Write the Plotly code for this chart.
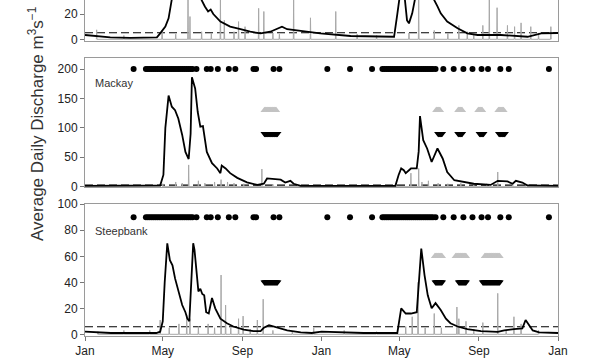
import pandas as pd
import plotly.graph_objects as go

BASE = pd.Timestamp("2010-01-01")
END = pd.Timestamp("2012-01-01")

# ---------------- data (day = days since 1 Jan of first year) ----------------
# Top (cut-off) panel: discharge
top_days = [0, 20, 39, 70, 100, 111, 116, 124, 129, 134, 140, 150, 165, 180, 185, 190, 194, 198, 209, 224,
            240, 255, 271, 286, 304, 312, 333, 363, 410, 477, 482, 485, 490, 497, 500, 505, 510, 520, 530, 539,
            544, 549, 559, 575, 590, 606, 642, 683, 704, 719, 730]
top_vals = [3.4, 2.5, 1.5, 1.2, 1.0, 1.5, 4.7, 10, 16.6, 31, 60, 80, 55, 31, 26, 22, 23.5, 20, 14, 10,
            8, 6, 4.7, 6, 10, 8, 6.6, 4.7, 2.6, 2, 20, 35, 50, 15, 12.6, 20.5, 35, 60, 45, 31,
            26, 20.5, 14, 8.7, 4.7, 3.4, 3.4, 2, 4.7, 4.7, 5]
top_spike_days = [18, 60, 119, 140, 159, 162, 180, 195, 209, 215, 230, 237, 247, 268, 276, 290, 300, 322,
                  348, 387, 420, 450, 500, 515, 539, 560, 577, 590, 600, 614, 624, 636, 652, 663, 673, 688, 700, 719]
top_spike_vals = [7.5, 3, 7, 4, 40, 18, 6, 5, 35, 15, 6, 14, 10, 24.5, 22, 5, 4, 35,
                  17, 22, 4, 3, 5, 40, 7, 5, 11, 6, 4, 11, 40, 25, 11, 10, 13, 10, 5, 10]
top_threshold = 5.2

# Mackay
mk_days = [0, 30, 60, 90, 116, 121, 124, 129, 134, 139, 144, 150, 155, 160, 163, 165, 170, 174, 178, 182,
           188, 196, 204, 209, 211, 217, 224, 235, 250, 266, 276, 281, 291, 302, 309, 317, 322, 333, 365, 420,
           479, 484, 488, 492, 495, 503, 512, 515, 517, 522, 528, 535, 544, 552, 559, 570, 580, 590, 600, 626,
           637, 652, 660, 665, 675, 683, 700, 730]
mk_vals = [1.5, 1.5, 1.5, 1.5, 2, 20, 100, 155, 136, 130, 116, 88, 59, 47, 90, 186, 167, 127, 102, 103,
           59, 40, 31, 23, 36, 31, 23, 15, 7.5, 3, 5, 14, 13, 12, 7, 10, 5, 1.5, 1.5, 1.5,
           1.5, 20, 31, 28, 23, 31, 31, 60, 120, 79, 65, 42, 65, 48, 25, 11, 9, 7, 5, 3,
           10, 9, 5, 10, 7, 2, 1.5, 1.5]
mk_spike_days = [120, 140, 150, 160, 175, 185, 200, 210, 220, 230, 245, 273, 290, 480, 503, 515, 520, 530,
                 545, 560, 580, 600, 620, 637, 660, 680]
mk_spike_vals = [5, 8, 6, 37, 10, 6, 8, 12, 8, 6, 5, 30, 4, 5, 23, 31, 8, 10,
                 6, 5, 6, 4, 5, 25, 6, 4]
mk_threshold = 2.5

# Steepbank
sb_days = [0, 15, 40, 80, 110, 116, 120, 123, 127, 131, 135, 139, 144, 150, 155, 158, 161, 164, 167, 169,
           172, 175, 178, 181, 184, 187, 191, 196, 201, 209, 219, 229, 245, 260, 271, 276, 284, 297, 312, 333,
           350, 365, 390, 430, 482, 485, 488, 495, 503, 512, 515, 519, 524, 529, 535, 541, 549, 557, 564, 575,
           590, 611, 637, 647, 662, 675, 680, 684, 691, 701, 730]
sb_vals = [2, 1.5, 1, 1, 1, 2, 10, 40, 70, 57, 53, 43, 33, 22.5, 17, 12, 10, 40, 70, 65,
           45.6, 33, 35, 31, 30, 17, 16, 28, 20, 12, 8.5, 6, 3.6, 2.4, 2.4, 5, 7, 5, 3, 1.5,
           1, 2, 1.5, 1, 1, 10, 20, 16, 16, 17, 40, 66, 45.6, 30, 20, 24, 18.7, 12, 8.5, 6,
           4, 2.4, 1.8, 3, 4, 4.6, 11, 8, 3, 1.5, 1]
sb_spike_days = [20, 60, 100, 116, 130, 145, 157, 162, 175, 190, 200, 210, 217, 225, 237, 244, 255, 266, 275,
                 290, 320, 353, 400, 450, 495, 505, 514, 525, 539, 550, 574, 577, 588, 600, 614, 637, 650,
                 662, 673, 700]
sb_spike_vals = [2, 3, 3, 11, 5, 8, 15, 12, 6, 8, 5, 45.6, 22.5, 5, 12, 14, 4, 11, 27,
                 3, 2, 5, 3, 2, 6, 13.5, 40, 5, 16, 5, 21, 12, 10, 4, 9, 31.5, 3,
                 13.5, 8, 3]
sb_threshold = 5.8

# Sampling dates (dots), shared by both panels
sample_days = [75, 94, 97, 100, 103, 106, 109, 112, 115, 118, 121, 124, 127, 130, 133, 136, 139, 142, 145,
               148, 151, 154, 157, 160, 163, 166, 172, 188, 194, 205, 222, 232, 260, 264, 291, 300, 374,
               409, 443, 459, 462, 465, 468, 471, 474, 477, 480, 483, 486, 489, 492, 495, 498, 501, 504,
               507, 510, 513, 516, 519, 522, 525, 528, 531, 534, 537, 541, 553, 569, 584, 598, 612, 622,
               641, 654, 716]
mk_sample_level = 200
sb_sample_level = 90

# Deployment periods (start/end day)
mk_gray_start = [277, 542, 576, 607, 638]
mk_gray_end = [295, 548, 582, 613, 646]
mk_gray_level = 130
mk_black_start = [277, 545, 576, 609, 639]
mk_black_end = [297, 551, 582, 615, 648]
mk_black_level = 90
sb_gray_start = [540, 572, 617]
sb_gray_end = [551, 588, 640]
sb_gray_level = 60
sb_black_start = [277, 541, 577, 614]
sb_black_end = [297, 551, 588, 640]
sb_black_level = 40


# ---------------- helpers ----------------
def to_dates(days):
    return [BASE + pd.Timedelta(days=float(d)) for d in days]


def spike_xy(days, vals):
    xs, ys = [], []
    for d, v in sorted(zip(days, vals)):
        xs += [d - 0.5, d, d + 0.5]
        ys += [0, v, 0]
    return to_dates(xs), ys


def period_days(starts, ends):
    out = []
    for s, e in zip(starts, ends):
        out += list(range(s, e + 1))
    return out


fig = go.Figure()

panels = [
    ("x", "y", top_days, top_vals, top_spike_days, top_spike_vals),
    ("x2", "y2", mk_days, mk_vals, mk_spike_days, mk_spike_vals),
    ("x3", "y3", sb_days, sb_vals, sb_spike_days, sb_spike_vals),
]
for xa, ya, d, v, sd, sv in panels:
    sx, sy = spike_xy(sd, sv)
    fig.add_trace(go.Scatter(x=sx, y=sy, mode="lines", xaxis=xa, yaxis=ya,
                             line=dict(color="#a8a8a8", width=1), hoverinfo="skip"))
    fig.add_trace(go.Scatter(x=to_dates(d), y=v, mode="lines", xaxis=xa, yaxis=ya,
                             line=dict(color="black", width=1.8)))

# sampling dots
fig.add_trace(go.Scatter(x=to_dates(sample_days), y=[mk_sample_level] * len(sample_days), mode="markers",
                         xaxis="x2", yaxis="y2", marker=dict(color="black", size=6)))
fig.add_trace(go.Scatter(x=to_dates(sample_days), y=[sb_sample_level] * len(sample_days), mode="markers",
                         xaxis="x3", yaxis="y3", marker=dict(color="black", size=6)))

# deployment bands
for starts, ends, level, sym, col, xa, ya in [
    (mk_gray_start, mk_gray_end, mk_gray_level, "triangle-up", "#c3c3c3", "x2", "y2"),
    (mk_black_start, mk_black_end, mk_black_level, "triangle-down", "black", "x2", "y2"),
    (sb_gray_start, sb_gray_end, sb_gray_level, "triangle-up", "#c3c3c3", "x3", "y3"),
    (sb_black_start, sb_black_end, sb_black_level, "triangle-down", "black", "x3", "y3"),
]:
    pd_days = period_days(starts, ends)
    fig.add_trace(go.Scatter(x=to_dates(pd_days), y=[level] * len(pd_days), mode="markers",
                             xaxis=xa, yaxis=ya,
                             marker=dict(symbol=sym, color=col, size=7, line=dict(width=0))))

# thresholds (dashed)
for ya, thr in [("y", top_threshold), ("y2", mk_threshold), ("y3", sb_threshold)]:
    fig.add_shape(type="line", xref=ya.replace("y", "x") + " domain", x0=0, x1=1, yref=ya, y0=thr, y1=thr,
                  line=dict(color="black", width=1.2, dash="8px,4px"), layer="below")

AX = "#9a9a9a"
FONT = "Liberation Sans, Arial, sans-serif"
xcommon = dict(type="date", range=[BASE, END], showline=True, linecolor=AX, linewidth=1, automargin=False,
               showgrid=False, zeroline=False, tickformat="%b", dtick="M4", tick0="2010-01-01",
               tickfont=dict(size=12, color="#222", family=FONT))
ycommon = dict(showline=True, linecolor=AX, linewidth=1, mirror=True, showgrid=False, zeroline=False,
               automargin=False, ticks="outside", ticklen=4, tickcolor="#777",
               tickfont=dict(size=12, color="#222", family=FONT))

fig.update_layout(
    width=600, height=360,
    margin=dict(l=85, r=42, t=0, b=24, autoexpand=False),
    paper_bgcolor="white", plot_bgcolor="white",
    showlegend=False,
    font=dict(family=FONT, color="#222"),
    xaxis=dict(xcommon, domain=[0, 1], anchor="y", mirror=False, showticklabels=False, ticks=""),
    xaxis2=dict(xcommon, domain=[0, 1], anchor="y2", matches="x", mirror=True, showticklabels=False, ticks=""),
    xaxis3=dict(xcommon, domain=[0, 1], anchor="y3", matches="x", mirror=True, showticklabels=True,
                ticks="outside", ticklen=4, tickcolor="#777"),
    yaxis=dict(ycommon, domain=[0.878, 1.0], range=[-1.34, 31.1], dtick=20, anchor="x"),
    yaxis2=dict(ycommon, domain=[0.442, 0.828], range=[-1.36, 219.2], dtick=50, anchor="x2"),
    yaxis3=dict(ycommon, domain=[0.0, 0.392], range=[-1.3, 100], dtick=20, anchor="x3"),
)

fig.add_annotation(text="Mackay", xref="x2 domain", yref="y2", x=0.017, y=176, xanchor="left",
                   yanchor="middle", showarrow=False, font=dict(size=11, color="#333", family=FONT))
fig.add_annotation(text="Steepbank", xref="x3 domain", yref="y3", x=0.017, y=79.5, xanchor="left",
                   yanchor="middle", showarrow=False, font=dict(size=11, color="#333", family=FONT))
fig.add_annotation(text="Average Daily Discharge m<sup>3</sup>s<sup>\u22121</sup>", xref="paper", yref="paper",
                   x=-0.1036, y=0.634, xanchor="center", yanchor="middle", textangle=-90, showarrow=False,
                   font=dict(size=17, color="#333", family=FONT))

fig.write_html("out.html", config={"displayModeBar": False},
               post_script="document.body.style.margin='0px';")
